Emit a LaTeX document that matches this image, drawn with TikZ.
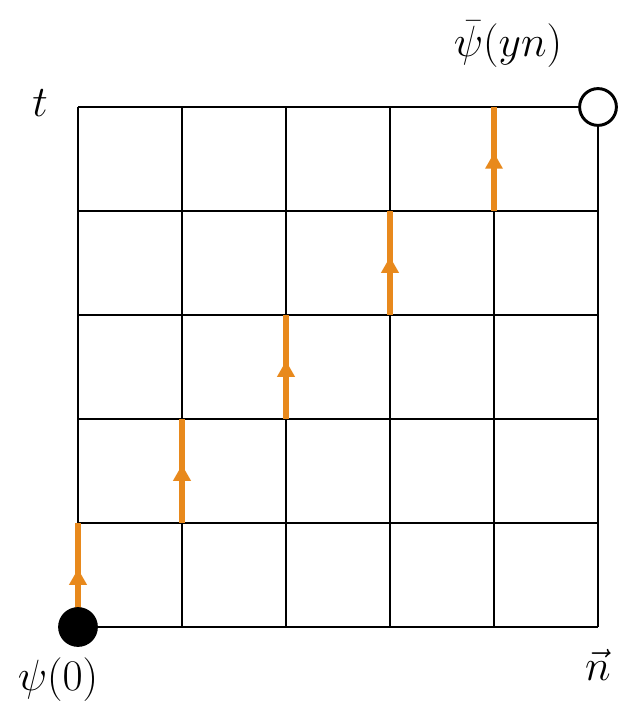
\documentclass[tikz,border=0pt]{standalone}
\usepackage{graphicx}
\usetikzlibrary{arrows.meta,decorations.markings}
\definecolor{LinkOrange}{HTML}{E8891C}

\newcommand{\biglbl}[1]{\scalebox{1.25}{$#1$}}

\begin{document}
\begin{tikzpicture}[x=2.6cm,y=2.6cm,
      lattice/.style={line width=2.1pt,step=2.6cm},
      link/.style={draw=LinkOrange,line width=4.2pt,postaction={decorate},
                   decoration={markings,mark=at position 0.56 with
                   {\arrow[LinkOrange]{Triangle[width=0.42cm,length=0.4cm]}}}},
      site/.style={circle,draw,line width=2.1pt,minimum size=0.92cm,inner sep=0pt},
      lbl/.style={font=\Huge},
    ]
    \useasboundingbox (-1.95cm,-2.0cm) rectangle (13.875cm,15.675cm);

    \foreach \i in {0,...,5}
      \foreach \j in {0,...,5}
        \coordinate (v\i\j) at (\i,\j);

    \draw[lattice] (0,0) grid (5,5);

    % path of the quark along the diagonal
    \foreach \i [count=\j] in {0,...,4}
      \draw[link] (v\i\i) -- (v\i\j);

    \node[site,fill=black] (psi)    at (v00) {};
    \node[site,fill=white] (psibar) at (v55) {};

    \node[lbl] (lpsi)    at (-0.5cm,-1.325cm)   {\biglbl{\psi(0)}};
    \node[lbl] (lpsibar) at (10.75cm,14.575cm)  {\biglbl{\bar\psi(yn)}};
    \node[lbl] (lt)      at (-0.95cm,13.1cm)    {\biglbl{t}};
    \node[lbl] (ln)      at (13.0cm,-0.95cm)    {\biglbl{\vec{n}}};
  \end{tikzpicture}
\end{document}
